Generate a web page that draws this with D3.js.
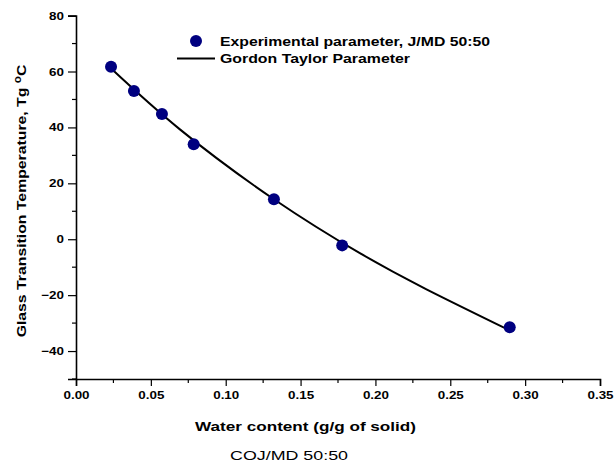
<!DOCTYPE html>
<html>
<head>
<meta charset="utf-8">
<script src="https://cdn.jsdelivr.net/npm/d3@7"></script>
<style>
  body { margin: 0; background: #fff; }
  text { font-family: Arial, "Liberation Sans", sans-serif; }
</style>
</head>
<body>
<script>
// experimental points
let waterContent = [0.0234, 0.0387, 0.0574, 0.0786, 0.1322, 0.1778, 0.2897]
let tgValues = [61.7, 53.0, 44.8, 34.0, 14.3, -2.2, -31.5]

// Gordon Taylor curve
let curveX = [0.0240, 0.0694, 0.1322, 0.1896, 0.2341, 0.2897]
let curveY = [60.8, 39.3, 14.3, -5.0, -17.9, -32.6]

let xTicks = [0, 0.05, 0.10, 0.15, 0.20, 0.25, 0.30, 0.35]
let xMinor = [0.025, 0.075, 0.125, 0.175, 0.225, 0.275, 0.325]
let yTicks = [-40, -20, 0, 20, 40, 60, 80]
let yMinor = [-50, -30, -10, 10, 30, 50, 70]

let width = 615
let height = 464
// the picture is stretched sideways, so text gets squeezed back out
let stretch = 1.22

let svg = d3.select("body")
    .append("svg")
    .attr("width", width)
    .attr("height", height)

let x = d3.scaleLinear()
    .domain([0, 0.35])
    .range([76, 600])
let y = d3.scaleLinear()
    .domain([-50, 80])
    .range([379, 15.6])

//axes
let xAxis = d3.axisBottom(x)
    .tickValues(xTicks)
    .tickFormat(d3.format(".2f"))
    .tickSize(7)
    .tickPadding(5)
let yAxis = d3.axisLeft(y)
    .tickValues(yTicks)
    .tickSize(8)
    .tickPadding(4)

let gx = svg.append("g")
    .attr("transform", "translate(0," + y(-50) + ")")
    .call(xAxis)
gx.selectAll(".minor")
    .data(xMinor)
    .enter()
    .append("line")
    .attr("class", "minor")
    .attr("x1", d => x(d)).attr("x2", d => x(d))
    .attr("y1", 0).attr("y2", 4)
    .attr("stroke", "#000")
    .attr("stroke-width", 1.2)

let gy = svg.append("g")
    .attr("transform", "translate(" + x(0) + ",0)")
    .call(yAxis)
gy.selectAll(".minor")
    .data(yMinor)
    .enter()
    .append("line")
    .attr("class", "minor")
    .attr("x1", 0).attr("x2", -4)
    .attr("y1", d => y(d)).attr("y2", d => y(d))
    .attr("stroke", "#000")
    .attr("stroke-width", 1.2)

svg.selectAll(".domain").attr("stroke-width", 1.6)
svg.selectAll(".tick line").attr("stroke-width", 1.2)
svg.selectAll(".tick text")
    .attr("font-size", 11)
    .attr("font-weight", "bold")
    .attr("font-family", "Arial, 'Liberation Sans', sans-serif")
    .attr("fill", "#000")
gx.selectAll(".tick text")
    .attr("transform", "scale(" + stretch + ",1)")
gy.selectAll(".tick text")
    .attr("x", -12 / stretch)
    .attr("transform", "scale(" + stretch + ",1)")

//curve
let curveData = curveX.map((d, i) => [d, curveY[i]])
let line = d3.line()
    .x(d => x(d[0]))
    .y(d => y(d[1]))
    .curve(d3.curveNatural)

svg.append("path")
    .datum(curveData)
    .attr("d", line)
    .attr("fill", "none")
    .attr("stroke", "#000")
    .attr("stroke-width", 2)

//points
svg.selectAll(".dot")
    .data(waterContent)
    .enter()
    .append("circle")
    .attr("class", "dot")
    .attr("cx", d => x(d))
    .attr("cy", (d, i) => y(tgValues[i]))
    .attr("r", 6)
    .attr("fill", "#000080")

//legend
svg.append("circle")
    .attr("cx", 196).attr("cy", 41).attr("r", 6)
    .attr("fill", "#000080")
svg.append("line")
    .attr("x1", 177).attr("x2", 215)
    .attr("y1", 58.5).attr("y2", 58.5)
    .attr("stroke", "#000").attr("stroke-width", 2)
svg.append("text")
    .attr("x", 220).attr("y", 45.5)
    .attr("font-size", 12.5).attr("font-weight", "bold")
    .attr("textLength", 270).attr("lengthAdjust", "spacingAndGlyphs")
    .text("Experimental parameter, J/MD 50:50")
svg.append("text")
    .attr("x", 220).attr("y", 62.5)
    .attr("font-size", 12.5).attr("font-weight", "bold")
    .attr("textLength", 190).attr("lengthAdjust", "spacingAndGlyphs")
    .text("Gordon Taylor Parameter")

//titles
svg.append("text")
    .attr("x", 195).attr("y", 431)
    .attr("font-size", 13.5).attr("font-weight", "bold")
    .attr("textLength", 221).attr("lengthAdjust", "spacingAndGlyphs")
    .text("Water content (g/g of solid)")

let yTitle = svg.append("text")
    .attr("transform", "translate(26,201) rotate(-90) scale(1.17,1)")
    .attr("text-anchor", "middle")
    .attr("font-size", 13.5).attr("font-weight", "bold")
yTitle.append("tspan").text("Glass Transition Temperature, Tg ")
yTitle.append("tspan").attr("dy", -5).attr("font-size", 10).text("o")
yTitle.append("tspan").attr("dy", 5).text("C")

svg.append("text")
    .attr("x", 230).attr("y", 459.5)
    .attr("font-size", 13)
    .attr("textLength", 118).attr("lengthAdjust", "spacingAndGlyphs")
    .text("COJ/MD 50:50")
</script>
</body>
</html>
